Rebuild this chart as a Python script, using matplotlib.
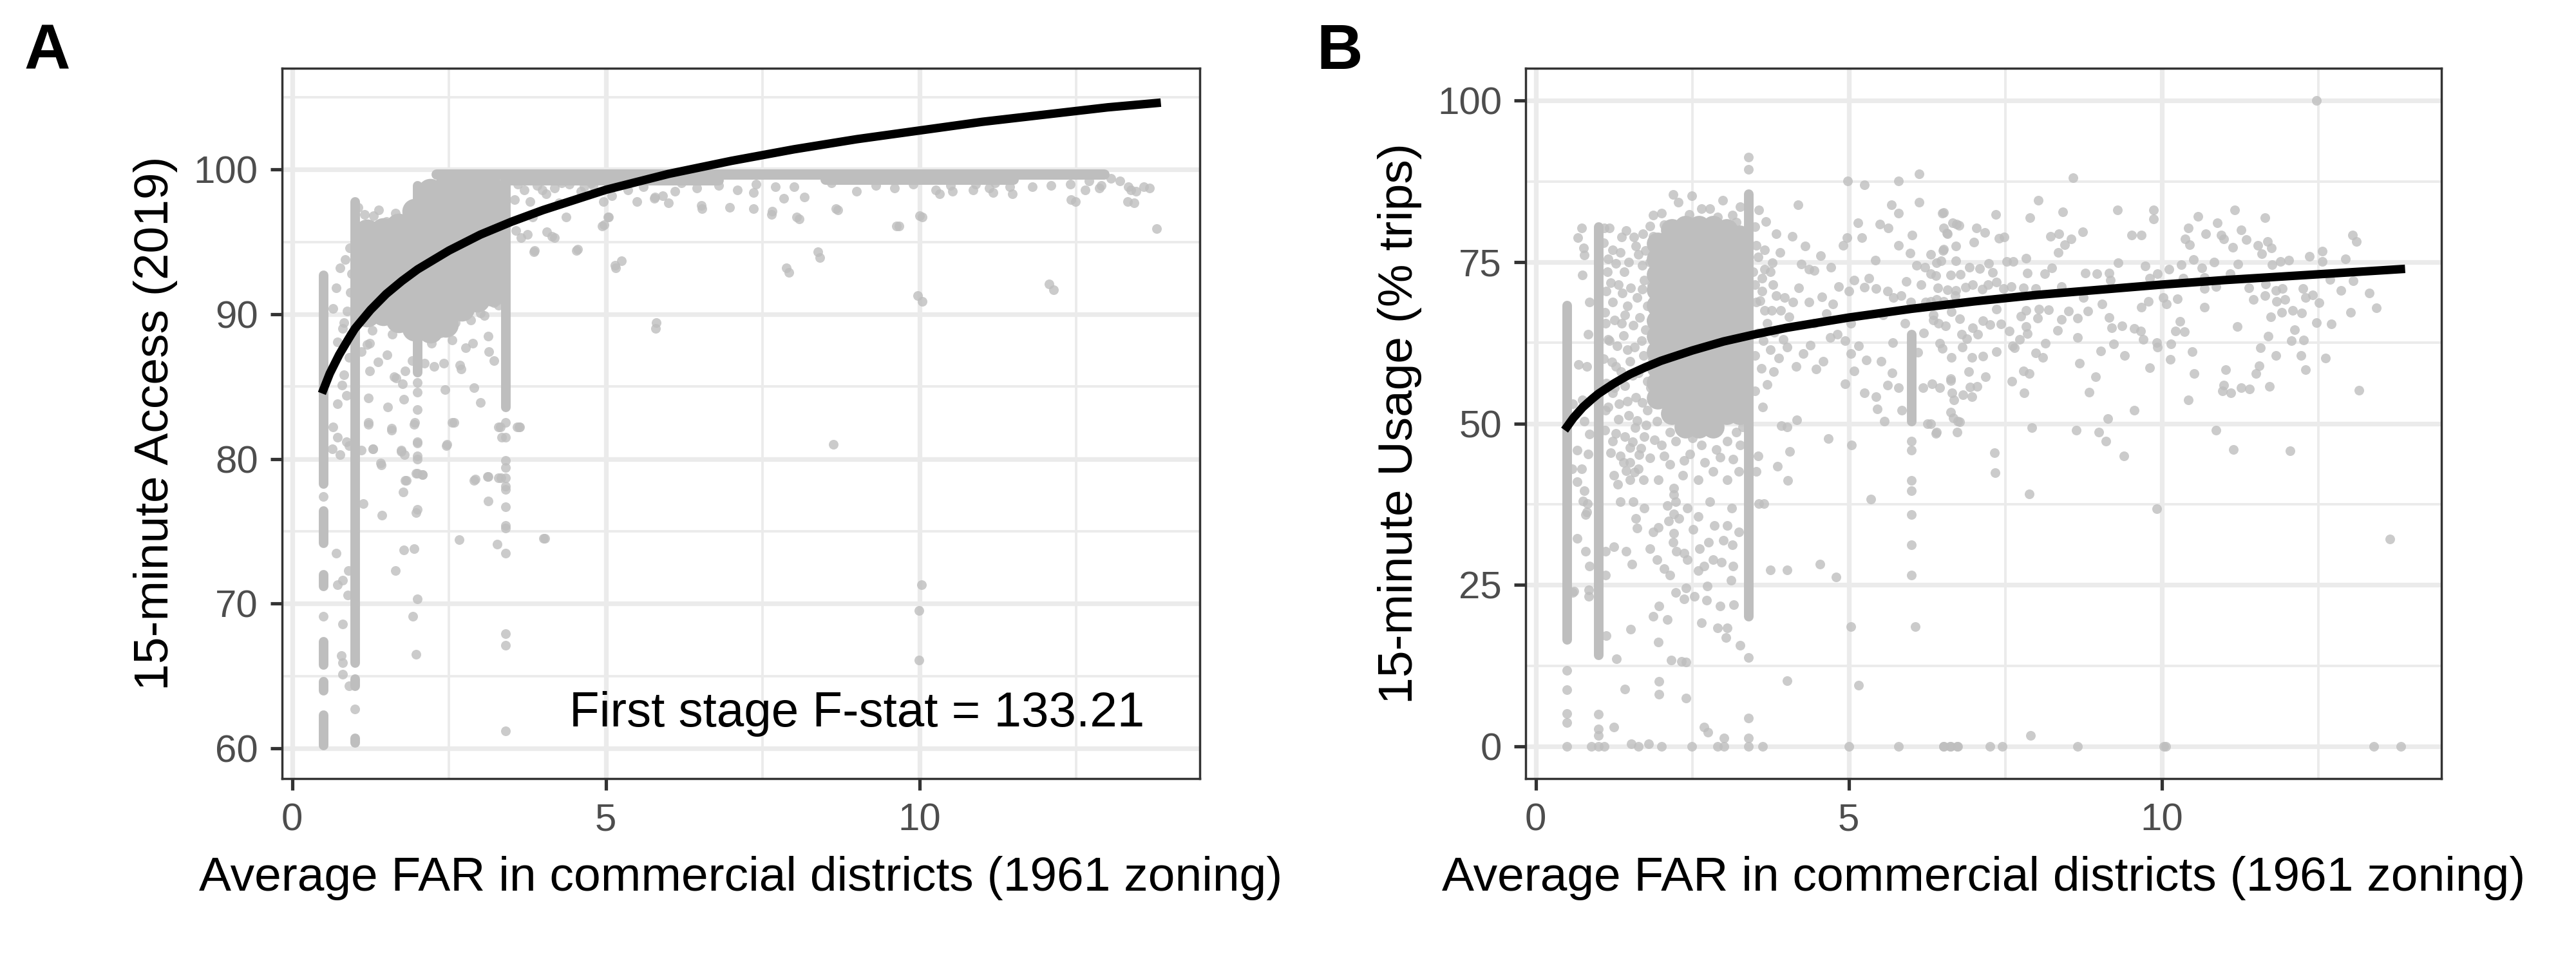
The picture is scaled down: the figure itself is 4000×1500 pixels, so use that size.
import matplotlib.pyplot as plt

plt.rcParams['font.family'] = ['Liberation Sans', 'DejaVu Sans']

# ---------------- data ----------------
# Panel A: 15-minute access (2019) vs average commercial FAR (1961)

# dense vertical runs of overlapping points: (FAR, lowest, highest)
acc_runs = [
    (0.5, 78.3, 92.7), (0.5, 74.2, 76.4), (0.5, 71.2, 72.0), (0.5, 65.8, 67.4),
    (0.5, 64.0, 64.6), (0.5, 60.2, 62.3),
    (1.0, 65.9, 97.8), (1.0, 64.3, 64.8), (1.0, 60.4, 60.7),
    (2.0, 86.0, 98.9), (3.4, 83.6, 99.5),
]
# the band of points just under 100: (access, FAR from, FAR to)
acc_band = [(99.65, 2.3, 12.95), (99.25, 3.4, 6.8), (99.3, 8.5, 11.5)]

# solid core of the main cloud: (FAR, [access values])
acc_core = [
    (1.2, [90.0, 91.2, 92.5, 93.7, 94.9, 95.7]),
    (1.45, [90.1, 91.3, 92.4, 93.6, 94.8, 95.8]),
    (1.7, [89.6, 90.8, 92.0, 93.2, 94.4, 95.5, 96.1]),
    (1.95, [89.0, 90.3, 91.5, 92.7, 93.9, 95.0, 96.2, 97.1]),
    (2.2, [88.9, 90.2, 91.4, 92.6, 93.8, 95.0, 96.2, 97.4, 98.5]),
    (2.45, [89.3, 90.5, 91.7, 92.9, 94.1, 95.3, 96.5, 97.7, 98.7]),
    (2.7, [90.4, 91.6, 92.8, 94.0, 95.2, 96.4, 97.6, 98.7]),
    (2.95, [91.0, 92.2, 93.4, 94.6, 95.8, 97.0, 98.2, 98.8]),
    (3.2, [91.4, 92.6, 93.8, 95.0, 96.2, 97.4, 98.6]),
]

# individual points
acc_pts = [
    (0.5, 77.4), (0.5, 69.1),
    (0.85, 93.8), (0.76, 93.2), (0.70, 91.8), (0.65, 90.4), (0.83, 89.4), (0.81, 89.0),
    (0.72, 88.1), (0.91, 87.0), (0.83, 85.8), (0.79, 85.1), (0.87, 84.4), (0.72, 83.8),
    (0.65, 82.2), (0.72, 81.5), (0.87, 81.2), (0.91, 80.9), (0.64, 80.7), (0.76, 80.3),
    (0.93, 91.5), (0.95, 92.8), (0.92, 94.6), (0.88, 90.2), (0.94, 88.6),
    (0.70, 73.5), (0.90, 72.3), (0.81, 71.6), (0.72, 71.3), (0.89, 70.6), (0.80, 68.6),
    (0.78, 66.4), (0.80, 65.9), (0.80, 65.1), (0.91, 64.3),
    (1.10, 80.6), (1.22, 82.5), (1.29, 80.7), (1.42, 79.6), (1.59, 82.0), (1.74, 80.6),
    (1.79, 80.3), (1.95, 82.5), (2.00, 81.1), (2.00, 80.0), (2.08, 78.9), (2.00, 79.0),
    (1.80, 78.5), (1.77, 77.7), (1.13, 76.9), (1.43, 76.1), (2.00, 76.5), (1.98, 76.3),
    (2.47, 81.0), (2.58, 82.5), (2.92, 78.6), (3.12, 78.8), (3.32, 82.2), (3.34, 81.5),
    (3.33, 78.7), (3.13, 77.1), (3.63, 82.2), (2.66, 74.4), (4.03, 74.5), (3.27, 74.1),
    (1.78, 73.7), (1.94, 73.8), (1.65, 72.3), (2.00, 70.3), (1.92, 69.1), (1.98, 66.5),
    (1.24, 86.1), (1.22, 84.2), (1.22, 82.4), (1.29, 80.7), (1.41, 79.7), (1.52, 83.6),
    (1.58, 82.1), (1.63, 85.7), (1.76, 85.2), (1.78, 84.1), (1.74, 80.5), (2.00, 83.4),
    (1.94, 82.4), (2.00, 81.2), (2.00, 80.2), (2.00, 85.3), (2.00, 84.6), (2.44, 84.8),
    (2.55, 82.5), (2.46, 80.9), (2.90, 84.9), (3.00, 83.9), (3.22, 86.8), (3.14, 87.4),
    (3.12, 88.5), (2.88, 88.0), (2.77, 87.7), (2.69, 86.2), (2.67, 86.5), (2.42, 86.6),
    (2.26, 86.4), (2.22, 88.0), (2.37, 88.7), (2.11, 86.6), (1.91, 86.8), (1.80, 86.1),
    (1.66, 85.6), (1.51, 87.2), (1.37, 86.7), (1.24, 88.0), (1.28, 88.9), (1.19, 87.9),
    (1.10, 87.4), (3.06, 89.9), (3.00, 90.1), (3.12, 91.5), (3.22, 90.8), (3.29, 90.6),
    (3.29, 82.2), (3.59, 82.2), (3.11, 78.8), (3.29, 78.7), (2.90, 78.5), (1.98, 79.0),
    (2.08, 78.9), (1.82, 78.5), (2.60, 89.4), (2.85, 89.6), (2.55, 88.2), (1.60, 88.6),
    (1.05, 97.4), (1.30, 96.8), (1.50, 96.4), (1.65, 97.0), (1.80, 96.6), (1.90, 97.2),
    (1.15, 96.9), (1.38, 97.2),
    (3.4, 82.5), (3.4, 81.5), (3.4, 79.9), (3.4, 79.4), (3.4, 78.7), (3.4, 78.1),
    (3.4, 77.9), (3.4, 76.7), (3.4, 75.4), (3.4, 75.2), (3.4, 73.5), (3.4, 67.9),
    (3.4, 67.1), (3.4, 61.2), (1.0, 62.7),
    (3.57, 95.8), (3.65, 95.3), (3.75, 95.5), (3.85, 94.3), (4.06, 95.7), (4.18, 95.3),
    (4.37, 96.7), (4.53, 94.4), (3.83, 96.7), (3.99, 98.6), (3.79, 97.8), (4.18, 98.7),
    (4.42, 99.0), (4.65, 98.8), (4.96, 97.8), (5.04, 96.7), (4.94, 96.1), (5.15, 93.4),
    (5.25, 93.7), (5.50, 97.8), (5.78, 98.1), (5.80, 89.4), (4.77, 99.1), (3.86, 94.4),
    (4.55, 94.5), (5.16, 93.2), (3.62, 82.2), (4.01, 74.5), (8.63, 81.0), (7.88, 93.2),
    (8.38, 94.3), (9.63, 96.1), (10.0, 96.8), (9.97, 91.3), (10.03, 71.3), (9.99, 69.5),
    (9.99, 66.1), (12.07, 92.1), (13.78, 95.9), (13.58, 98.8), (13.37, 98.6), (13.32, 97.8),
    (12.42, 97.9), (8.04, 96.7), (8.67, 97.3), (7.65, 97.1), (6.52, 97.5), (5.91, 98.2),
    (5.03, 96.7), (4.97, 96.2), (4.14, 95.4), (10.26, 98.6), (11.11, 98.7), (11.44, 98.8),
    (5.77, 98.0), (6.00, 97.7), (6.53, 97.3), (6.97, 97.4), (7.35, 97.3), (7.64, 96.9),
    (8.08, 96.6), (8.70, 97.2), (9.67, 96.1), (10.04, 96.7), (12.49, 97.8), (13.42, 97.7),
    (13.67, 98.7), (13.45, 98.5), (8.41, 93.9), (7.92, 92.9), (12.14, 91.7), (10.04, 90.9),
    (5.79, 89.0), (9.00, 98.5), (10.32, 98.3), (10.53, 98.5), (11.17, 98.4), (11.48, 98.3),
    (10.85, 98.6), (12.64, 98.6), (12.87, 98.7), (13.33, 98.8), (8.16, 98.1), (7.84, 98.0),
    (7.35, 98.4), (3.6, 99.0), (3.9, 98.9), (4.3, 99.1), (4.8, 98.9), (5.2, 99.0),
    (5.6, 98.8), (6.2, 99.1), (6.8, 98.9), (7.4, 99.0), (8.0, 98.8), (8.6, 99.1),
    (9.3, 98.9), (9.9, 99.0), (10.5, 98.9), (11.2, 99.1), (11.8, 98.8), (12.4, 99.0),
    (12.9, 98.9), (13.2, 99.2), (13.05, 99.4), (3.7, 98.6), (4.05, 98.3), (4.6, 98.5),
    (5.35, 98.6), (6.45, 98.7), (7.1, 98.6), (7.7, 98.8), (9.6, 98.7), (10.9, 99.0),
    (12.1, 98.9), (12.7, 99.2), (3.55, 97.9), (4.25, 97.7), (5.1, 98.2), (6.1, 98.5),
]

# fitted curve, panel A
acc_fit_far = [0.5, 0.6, 0.75, 0.9, 1.0, 1.25, 1.5, 1.75, 2.0, 2.5, 3.0, 3.5, 4.0, 5.0,
               6.0, 7.0, 8.0, 9.0, 10.0, 11.0, 12.0, 13.0, 13.78]
acc_fit_val = [84.8, 85.9, 87.2, 88.3, 89.0, 90.3, 91.4, 92.3, 93.1, 94.4, 95.5, 96.4, 97.2,
               98.6, 99.7, 100.6, 101.4, 102.1, 102.7, 103.3, 103.8, 104.3, 104.6]

# Panel B: 15-minute usage (% trips)
use_runs = [
    (0.5, 16.5, 68.3), (1.0, 14.1, 80.5), (3.4, 20.1, 85.6), (6.0, 50.4, 63.8),
]

use_core = [
    (1.95, [53.9, 56.3, 58.7, 61.1, 63.5, 65.9, 68.3, 70.7, 73.1, 75.5, 77.9]),
    (2.17, [51.5, 53.9, 56.3, 58.7, 61.1, 63.5, 65.9, 68.3, 70.7, 73.1, 75.5, 77.9, 80.0]),
    (2.39, [49.5, 51.9, 54.3, 56.7, 59.1, 61.5, 63.9, 66.3, 68.7, 71.1, 73.5, 75.9, 78.3, 80.5]),
    (2.61, [49.5, 51.9, 54.3, 56.7, 59.1, 61.5, 63.9, 66.3, 68.7, 71.1, 73.5, 75.9, 78.3, 80.5]),
    (2.83, [49.5, 51.9, 54.3, 56.7, 59.1, 61.5, 63.9, 66.3, 68.7, 71.1, 73.5, 75.9, 78.3, 80.5]),
    (3.05, [51.5, 53.9, 56.3, 58.7, 61.1, 63.5, 65.9, 68.3, 70.7, 73.1, 75.5, 77.9, 80.0]),
    (3.25, [51.5, 53.9, 56.3, 58.7, 61.1, 63.5, 65.9, 68.3, 70.7, 73.1, 75.5, 77.9, 79.0]),
]

use_pts = [
    # column ends
    (0.5, 11.8), (0.5, 8.8), (0.5, 5.1), (0.5, 3.7), (0.5, 0.0),
    (3.4, 91.2), (3.4, 89.3), (3.4, 13.7), (3.4, 4.4), (3.4, 1.3), (3.4, 0.0),
    (6.0, 47.3), (6.0, 45.9), (6.0, 41.2), (6.0, 39.6), (6.0, 35.9), (6.0, 31.2),
    (6.0, 26.5), (6.06, 18.5),
    # left of the cloud
    (0.73, 80.3), (0.67, 78.8), (0.76, 77.2), (0.77, 76.1), (0.74, 73.0), (0.86, 68.8),
    (0.84, 63.8), (0.68, 59.1), (0.82, 58.8), (0.59, 53.0), (0.74, 53.6), (0.77, 50.4),
    (0.86, 48.4), (0.66, 45.9), (0.84, 45.3), (0.73, 43.0), (0.66, 41.0), (0.77, 39.6),
    (0.82, 36.3), (0.79, 30.2), (0.86, 27.9), (0.58, 43.0), (0.59, 23.8), (0.85, 23.2),
    (0.66, 32.2), (0.75, 38.0), (0.83, 37.6), (0.79, 35.9), (0.61, 24.0), (0.85, 24.2),
    (0.89, 0.0), (1.0, 0.0), (1.09, 0.0), (1.0, 5.0), (1.0, 2.7), (1.0, 1.7),
    # under the cloud
    (1.25, 3.0), (1.53, 0.4), (1.64, 0.0), (1.80, 0.4), (2.01, 0.0), (2.49, 0.0),
    (2.90, 0.0), (3.01, 0.0), (3.01, 1.3), (2.69, 3.0), (2.75, 2.2), (3.62, 0.0),
    (2.33, 13.2), (2.40, 13.1), (2.16, 13.4), (1.97, 10.1), (1.97, 8.1), (2.40, 7.5),
    (1.42, 8.9), (1.29, 13.6), (1.12, 17.1), (1.51, 18.1), (1.96, 16.1), (1.88, 20.1),
    (2.10, 19.6), (2.24, 23.8), (2.37, 22.8), (2.53, 23.2), (2.73, 22.6), (2.94, 21.7),
    (3.16, 21.9), (3.26, 15.6), (2.90, 18.3), (3.06, 18.3), (3.04, 16.8), (2.65, 19.1),
    (2.40, 24.5), (1.97, 21.7), (1.44, 30.2), (1.54, 28.2), (1.25, 30.9), (1.11, 26.5),
    (1.11, 30.2), (1.35, 37.9), (1.56, 37.9), (1.73, 36.9), (1.60, 35.3), (1.62, 33.8),
    (1.82, 30.6), (1.94, 28.9), (2.05, 27.5), (2.14, 26.5), (2.25, 30.2), (2.19, 31.6),
    (2.37, 29.9), (2.42, 28.9), (2.60, 27.2), (2.69, 27.9), (2.83, 28.9), (2.97, 28.5),
    (3.15, 27.9), (3.12, 25.7), (2.74, 24.8), (2.76, 31.6), (2.62, 30.6), (2.51, 33.6),
    (2.29, 35.3), (2.12, 34.9), (1.96, 33.9), (2.10, 37.3), (1.87, 33.2), (2.60, 35.6),
    (2.78, 37.9), (3.13, 36.9), (3.06, 34.2), (3.14, 31.2), (3.24, 33.2), (3.00, 31.9),
    (2.85, 34.2), (2.42, 36.9), (2.24, 37.9), (1.96, 41.3), (1.72, 41.3), (1.50, 41.3),
    (1.25, 42.0), (1.44, 42.7), (1.31, 40.6), (1.64, 43.0), (1.82, 44.7), (2.14, 43.7),
    (2.37, 44.3), (2.60, 41.3), (2.83, 42.6), (3.06, 41.3), (3.24, 42.6), (3.56, 37.6),
    (2.01, 46.7), (2.24, 47.3), (2.46, 45.3), (2.65, 46.7), (2.88, 46.0), (3.06, 47.3),
    (3.26, 46.7), (2.78, 48.7), (2.14, 48.7), (1.94, 50.4), (3.20, 48.7), (2.56, 49.4),
    (2.2, 40.0), (2.2, 39.0), (2.2, 36.0), (2.2, 33.0), (1.9, 47.5), (2.05, 45.0),
    (2.35, 42.0), (2.7, 44.0), (2.95, 44.8), (3.15, 44.5), (2.5, 47.8), (3.3, 49.5),
    # inside / around the cloud
    (1.23, 76.9), (1.14, 73.5), (1.32, 71.5), (1.23, 68.8), (1.46, 68.2), (1.37, 65.5),
    (1.18, 62.8), (1.46, 61.4), (1.28, 58.8), (1.55, 57.4), (1.23, 54.7), (1.46, 53.4),
    (1.32, 50.7), (1.59, 49.4), (1.23, 47.3), (1.50, 46.3), (1.73, 48.0), (1.78, 52.0),
    (1.69, 62.8), (1.73, 72.2), (1.64, 76.2), (1.11, 65.5), (1.11, 52.0), (1.41, 73.5),
    (1.09, 80.3), (1.18, 80.3), (1.37, 78.9), (1.44, 79.9), (1.57, 78.9), (1.71, 79.4),
    (1.82, 80.6), (1.87, 82.3), (2.01, 82.6), (2.19, 85.5), (2.28, 84.3), (2.49, 85.3),
    (2.65, 83.3), (2.78, 83.3), (2.99, 84.6), (3.14, 82.3), (3.26, 83.6), (1.20, 45.5),
    (1.40, 44.0), (1.65, 45.2),
    (1.08, 78.0), (1.15, 75.5), (1.28, 74.8), (1.35, 76.5), (1.48, 75.0), (1.60, 77.5),
    (1.70, 74.5), (1.75, 76.8), (1.12, 70.5), (1.20, 71.8), (1.38, 70.2), (1.52, 71.0),
    (1.62, 69.5), (1.70, 70.8), (1.78, 68.2), (1.10, 67.2), (1.26, 66.0), (1.42, 66.8),
    (1.56, 65.2), (1.66, 66.4), (1.75, 64.5), (1.15, 63.0), (1.30, 62.0), (1.40, 63.6),
    (1.58, 61.8), (1.72, 60.5), (1.08, 60.0), (1.22, 59.5), (1.36, 58.0), (1.50, 59.6),
    (1.64, 57.8), (1.78, 56.5), (1.12, 56.2), (1.26, 55.5), (1.42, 55.8), (1.60, 54.0),
    (1.70, 53.2), (1.15, 52.5), (1.33, 53.0), (1.48, 51.2), (1.62, 50.5), (1.76, 49.8),
    (1.10, 49.0), (1.28, 48.5), (1.42, 48.0), (1.55, 47.2), (1.68, 46.2), (1.35, 45.0),
    (1.50, 44.0), (1.58, 42.5), (1.82, 75.0), (1.85, 71.5), (1.84, 66.0), (1.86, 60.0),
    (1.83, 55.5), (1.88, 79.0), (2.05, 80.8), (2.45, 82.4), (2.9, 82.0), (3.2, 81.2),
    # right of the cloud
    (3.56, 83.1), (3.68, 81.3), (3.84, 79.4), (3.65, 76.9), (3.78, 74.9), (3.52, 77.6),
    (3.47, 73.5), (3.61, 70.5), (3.52, 68.8), (3.65, 67.5),
    (3.50, 80.5), (3.55, 75.8), (3.50, 71.5), (3.58, 69.0), (3.55, 64.0), (3.50, 60.5),
    (3.60, 58.5), (3.70, 56.0), (3.50, 55.0), (3.62, 52.5), (3.80, 58.0), (3.95, 63.0),
    (4.05, 66.5), (4.20, 71.0), (4.30, 77.5), (4.10, 79.0), (3.90, 76.5), (4.45, 65.5),
    (4.55, 76.0), (4.75, 68.5),
    (4.19, 83.9), (4.98, 87.6), (5.25, 87.0), (5.80, 87.6), (6.12, 88.6), (5.68, 83.9),
    (5.80, 82.6), (6.12, 84.3), (4.97, 78.8), (4.91, 77.6), (5.21, 78.8), (5.15, 81.1),
    (5.50, 80.9), (5.63, 80.3), (6.01, 79.2), (5.79, 77.6), (5.42, 75.3), (5.98, 76.4),
    (6.08, 74.5), (6.22, 74.2), (6.49, 82.6), (6.58, 79.4), (6.72, 80.9), (6.50, 76.8),
    (6.40, 74.9), (6.31, 73.2), (4.24, 74.7), (4.36, 73.9), (4.45, 73.7), (4.71, 74.2),
    (5.09, 72.2), (4.84, 71.2), (5.00, 70.5), (5.25, 71.1), (5.32, 72.5), (5.43, 70.9),
    (5.62, 70.5), (5.71, 69.5), (5.84, 69.8), (5.99, 68.8), (6.23, 68.8), (6.40, 69.2),
    (6.58, 70.7), (6.70, 69.8), (4.64, 67.0), (4.57, 69.6), (4.36, 68.8), (4.11, 68.8),
    (3.97, 69.5), (3.91, 67.5), (3.84, 69.8), (3.79, 71.5), (3.75, 73.5), (3.65, 73.9),
    (3.61, 72.5), (3.77, 67.5), (3.70, 65.5), (3.81, 64.1), (3.63, 62.8), (3.75, 61.4),
    (3.88, 60.1), (4.02, 61.8), (4.16, 58.8), (4.27, 60.8), (4.39, 62.1), (4.48, 58.4),
    (4.59, 59.6), (4.70, 63.3), (4.82, 63.8), (4.94, 62.8), (5.03, 65.5), (5.03, 60.8),
    (5.16, 62.0), (5.28, 59.8), (5.09, 58.1), (4.94, 56.1), (5.25, 54.7), (5.43, 54.1),
    (5.62, 55.9), (5.69, 57.8), (5.52, 59.6), (5.46, 52.2), (5.57, 50.4), (5.80, 55.5),
    (5.85, 52.0), (6.19, 55.5), (6.33, 56.1), (6.26, 50.0), (6.40, 48.7), (6.63, 56.9),
    (6.65, 54.7), (6.74, 50.4), (4.17, 50.6), (3.92, 49.7), (4.02, 49.5), (4.67, 47.7),
    (5.04, 46.7), (4.06, 45.7), (3.86, 43.4), (4.03, 41.2), (3.64, 37.6), (3.55, 45.0),
    (3.52, 42.6), (3.75, 27.3), (4.02, 27.3), (4.54, 28.2), (4.80, 26.2), (5.35, 38.3),
    (5.03, 18.5), (4.01, 10.2), (5.16, 9.5), (5.0, 0.0), (5.79, 0.0), (6.51, 0.0),
    (6.63, 0.0), (6.74, 0.0), (5.7, 62.5), (5.9, 65.5), (6.2, 64.0), (6.1, 61.0),
    (6.35, 66.0), (5.55, 66.8), (6.45, 62.4), (5.92, 72.0), (6.15, 71.5),
    # far right
    (12.47, 100.0), (8.58, 88.1), (8.03, 84.6), (6.51, 82.7), (7.35, 82.4), (7.89, 81.9),
    (8.42, 82.8), (9.29, 83.1), (9.87, 83.1), (9.87, 81.7), (10.58, 82.1), (11.17, 83.1),
    (11.65, 81.9), (13.05, 79.2), (13.11, 78.2), (6.66, 81.1), (6.76, 80.7), (6.57, 79.5),
    (7.04, 80.3), (7.17, 79.6), (7.00, 78.1), (7.40, 78.7), (7.48, 78.9), (8.22, 79.0),
    (8.36, 79.4), (8.55, 78.6), (8.45, 77.7), (8.74, 79.7), (8.35, 76.5), (9.52, 79.2),
    (9.67, 79.2), (10.42, 80.3), (10.37, 78.6), (10.45, 77.7), (10.89, 81.1), (10.95, 79.2),
    (10.99, 78.6), (10.70, 79.4), (11.27, 80.0), (11.35, 78.5), (11.13, 77.3), (11.54, 77.6),
    (11.69, 78.2), (11.75, 77.2), (11.60, 76.3), (12.56, 76.7), (12.56, 75.1), (12.36, 75.9),
    (12.94, 75.5), (10.51, 75.4), (10.84, 75.0), (11.22, 74.7), (11.90, 75.1), (12.03, 75.3),
    (11.76, 74.6), (10.31, 74.6), (9.30, 74.9), (9.74, 74.4), (10.12, 73.9), (10.64, 74.1),
    (10.68, 72.6), (11.09, 73.2), (10.34, 72.5), (9.16, 73.3), (8.78, 73.3), (8.96, 73.2),
    (8.13, 73.2), (8.24, 74.1), (7.85, 73.3), (7.83, 75.6), (7.52, 75.1), (7.63, 75.1),
    (7.24, 74.8), (7.09, 74.0), (7.30, 73.4), (6.93, 74.2), (6.71, 75.2), (6.51, 77.0),
    (6.71, 77.5), (8.40, 71.2), (8.75, 69.5), (9.05, 68.5), (9.18, 72.2), (9.81, 72.5),
    (9.93, 73.2), (10.02, 69.5), (10.07, 68.5), (10.25, 69.3), (9.79, 68.9), (9.67, 68.0),
    (10.68, 70.9), (10.68, 68.0), (10.87, 71.2), (11.39, 71.0), (11.46, 69.2), (11.66, 71.6),
    (11.65, 69.8), (11.82, 70.6), (11.93, 70.9), (11.97, 69.2), (11.83, 68.9), (11.92, 67.2),
    (12.09, 67.5), (12.24, 67.1), (12.26, 70.9), (12.30, 69.5), (12.41, 69.9), (12.51, 68.7),
    (12.69, 72.3), (12.86, 70.6), (13.06, 72.1), (13.32, 70.2), (13.02, 67.2), (13.43, 67.9),
    (12.47, 65.6), (12.71, 65.4), (12.12, 64.5), (11.74, 66.5), (11.70, 63.5), (12.07, 62.8),
    (12.27, 62.9), (11.58, 61.7), (12.23, 60.5), (12.62, 60.1), (11.82, 60.5), (12.30, 58.3),
    (11.56, 58.9), (11.50, 57.7), (11.21, 65.0), (11.02, 58.3), (10.99, 55.9), (10.97, 55.0),
    (11.10, 54.7), (11.27, 55.5), (11.40, 55.3), (11.72, 55.7), (13.15, 55.1), (10.87, 49.0),
    (11.14, 46.0), (12.05, 45.8), (13.65, 32.1), (10.42, 53.6), (10.52, 57.7), (10.49, 61.1),
    (10.14, 59.9), (10.15, 62.3), (10.22, 64.3), (10.36, 64.2), (10.29, 65.8), (9.92, 62.5),
    (9.93, 61.8), (9.81, 58.6), (9.70, 63.0), (9.56, 64.7), (9.66, 64.3), (9.36, 65.1),
    (9.20, 64.8), (9.23, 62.3), (9.41, 60.5), (9.16, 66.4), (9.03, 61.2), (8.94, 57.2),
    (8.84, 54.8), (8.69, 59.3), (8.66, 63.3), (8.65, 66.3), (8.82, 67.4), (8.51, 67.4),
    (8.40, 66.1), (8.34, 64.4), (8.19, 67.6), (8.02, 66.3), (8.04, 67.7), (7.83, 67.5),
    (7.75, 66.6), (7.83, 65.0), (7.85, 63.9), (7.73, 63.0), (7.65, 61.7), (7.62, 62.0),
    (7.99, 60.9), (8.10, 60.2), (8.14, 62.4), (7.79, 58.1), (7.88, 57.7), (7.80, 54.7),
    (7.61, 56.5), (7.92, 49.4), (8.63, 49.0), (8.99, 48.7), (9.14, 50.8), (9.11, 47.3),
    (9.40, 45.0), (9.56, 52.0), (7.88, 39.1), (9.92, 36.8), (7.33, 45.5), (7.34, 42.4),
    (7.36, 61.1), (7.56, 64.3), (7.43, 65.4), (7.26, 65.3), (7.14, 65.9), (7.36, 67.7),
    (6.98, 64.8), (7.06, 63.8), (7.18, 57.2), (7.14, 60.4), (6.97, 60.2), (6.92, 58.0),
    (7.05, 55.7), (6.94, 55.6), (6.82, 54.4), (6.97, 54.1), (6.77, 50.3), (6.67, 50.9),
    (6.73, 48.7), (6.39, 48.5), (6.63, 51.7), (6.68, 53.6), (6.63, 56.6), (6.45, 55.5),
    (6.31, 50.0), (6.80, 63.8), (6.81, 61.8), (6.89, 63.1), (6.64, 60.2), (6.49, 61.6),
    (6.55, 65.1), (6.77, 66.2), (6.43, 65.5), (6.64, 67.3), (6.35, 66.8), (6.71, 70.6),
    (6.63, 73.0), (6.78, 73.1), (6.86, 71.1), (6.98, 71.5), (7.13, 70.8), (7.23, 71.5),
    (7.36, 71.9), (7.47, 70.9), (7.60, 71.2), (7.79, 71.0), (7.99, 70.9), (6.42, 71.0),
    (6.52, 68.9), (6.31, 76.2), (6.47, 75.2), (6.39, 72.9), (6.31, 68.9), (6.52, 80.3),
    (6.52, 0.0), (6.62, 0.0), (6.73, 0.0), (7.26, 0.0), (7.45, 0.0), (8.65, 0.0),
    (10.03, 0.0), (10.06, 0.0), (13.39, 0.0), (13.82, 0.0), (7.90, 1.7),
]

# fitted curve, panel B
use_fit_far = [0.5, 0.6, 0.75, 0.9, 1.0, 1.25, 1.5, 1.75, 2.0, 2.5, 3.0, 3.5, 4.0, 5.0,
               6.0, 7.0, 8.0, 9.0, 10.0, 11.0, 12.0, 13.0, 13.82]
use_fit_val = [49.5, 50.85, 52.5, 53.8, 54.6, 56.2, 57.6, 58.7, 59.7, 61.3, 62.7, 63.8, 64.8,
               66.4, 67.75, 68.9, 69.9, 70.7, 71.5, 72.2, 72.8, 73.4, 73.9]

fstat_label = 'First stage F-stat = 133.21'
xlabel = 'Average FAR in commercial districts (1961 zoning)'

# ---------------- drawing ----------------
GREY = '#BEBEBE'

fig = plt.figure(figsize=(16, 6), dpi=250)
axA = fig.add_axes([0.1095, 0.194, 0.3563, 0.7353])
axB = fig.add_axes([0.5923, 0.194, 0.3555, 0.7353])


def draw_panel(ax, runs, core, core_size, pts, fit_x, fit_y, band=()):
    for x, lo, hi in runs:
        ax.plot([x, x], [lo, hi], color=GREY, lw=4.3, solid_capstyle='round', zorder=2)
    for y, x0, x1 in band:
        ax.plot([x0, x1], [y, y], color=GREY, lw=4.6, solid_capstyle='round', zorder=2)
    cx = [x for x, ys in core for _ in ys]
    cy = [y for _, ys in core for y in ys]
    ax.scatter(cx, cy, s=core_size, color=GREY, linewidths=0, zorder=2)
    ax.scatter([p[0] for p in pts], [p[1] for p in pts], s=18.7, color=GREY,
               alpha=0.8, linewidths=0, zorder=3)
    ax.plot(fit_x, fit_y, color='black', lw=3.8, zorder=4)


def style_panel(ax, yticks, yminor, ylim, ylabel):
    ax.set_xlim(-0.16, 14.47)
    ax.set_ylim(*ylim)
    ax.set_xticks([0, 5, 10])
    ax.set_xticks([2.5, 7.5, 12.5], minor=True)
    ax.set_yticks(yticks)
    ax.set_yticks(yminor, minor=True)
    ax.set_axisbelow(True)
    ax.grid(which='major', color='#EBEBEB', lw=2.1, zorder=0)
    ax.grid(which='minor', color='#EBEBEB', lw=1.1, zorder=0)
    ax.tick_params(which='minor', length=0)
    ax.tick_params(which='major', length=5.2, width=1.5, color='#333333',
                   labelsize=17.3, labelcolor='#4D4D4D', pad=5.5)
    for sp in ax.spines.values():
        sp.set_color('#333333')
        sp.set_linewidth(1.0)
    ax.set_xlabel(xlabel, fontsize=21.6, labelpad=8)
    ax.set_ylabel(ylabel, fontsize=21.6, labelpad=7)


draw_panel(axA, acc_runs, acc_core, 130, acc_pts, acc_fit_far, acc_fit_val, acc_band)
style_panel(axA, [60, 70, 80, 90, 100], [65, 75, 85, 95, 105], (57.9, 107.0),
            '15-minute Access (2019)')
axA.text(9.0, 61.5, fstat_label, fontsize=22, ha='center', va='baseline')

draw_panel(axB, use_runs, use_core, 100, use_pts, use_fit_far, use_fit_val)
style_panel(axB, [0, 25, 50, 75, 100], [12.5, 37.5, 62.5, 87.5], (-5, 105),
            '15-minute Usage (% trips)')

fig.text(0.0095, 0.9287, 'A', fontsize=28.5, fontweight='bold', ha='left', va='baseline')
fig.text(0.5112, 0.9287, 'B', fontsize=28.5, fontweight='bold', ha='left', va='baseline')

fig.savefig('out.png', dpi=250)
